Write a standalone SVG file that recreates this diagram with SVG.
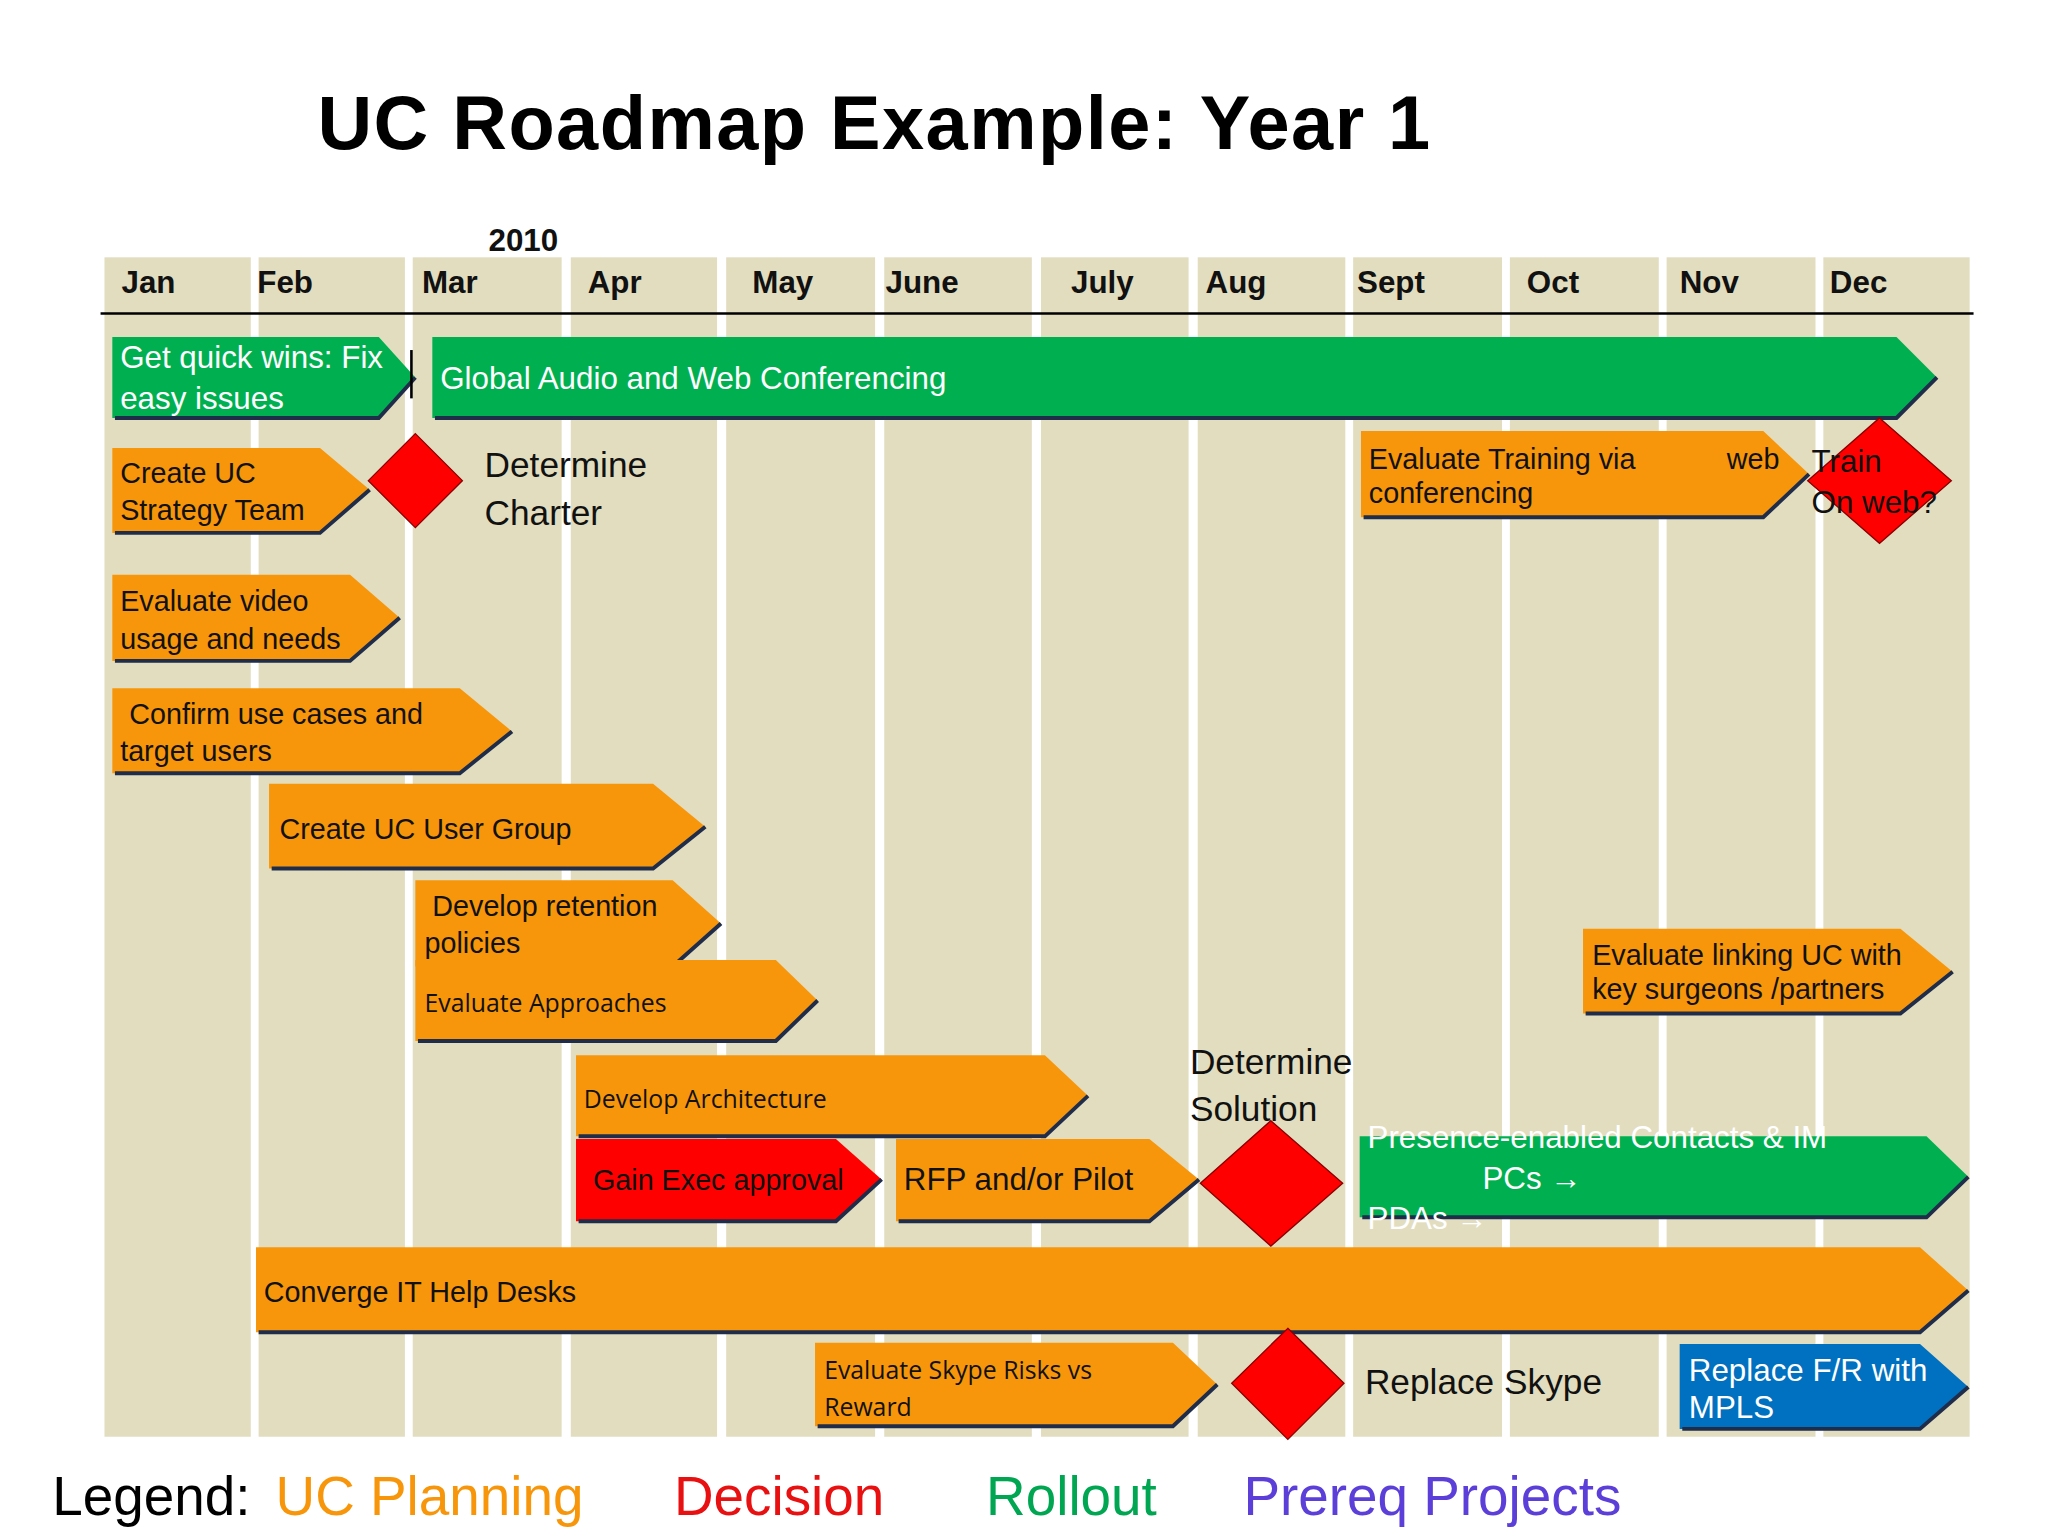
<svg xmlns="http://www.w3.org/2000/svg" width="2048" height="1536" viewBox="0 0 2048 1536">
<style>
.st{fill:#e2ddbf}
.o{fill:#f7960a}.g{fill:#00b050}.r{fill:#ff0000}.b{fill:#0070c0}
.sh{fill:none;stroke:#1f2d4a;stroke-width:3}
text{font-family:"Liberation Sans",Arial,sans-serif}
.m{font-weight:bold;font-size:24px;fill:#111}
.t{font-size:22px;fill:#111}
.w{font-size:24px;fill:#fff}
.n{font-size:27px;fill:#111;font-family:"Liberation Sans Narrow","Liberation Sans",sans-serif}
.os{font-family:"Open Sans",sans-serif;font-size:19px;fill:#111}
</style>
<rect width="2048" height="1536" fill="#fff"/>
<g transform="scale(1.30612)">
<g id="stripes">
<rect class="st" x="80" y="197" width="112" height="903"/>
<rect class="st" x="198" y="197" width="112" height="903"/>
<rect class="st" x="316" y="197" width="114" height="903"/>
<rect class="st" x="437" y="197" width="112" height="903"/>
<rect class="st" x="556" y="197" width="114" height="903"/>
<rect class="st" x="677" y="197" width="113" height="903"/>
<rect class="st" x="797" y="197" width="113" height="903"/>
<rect class="st" x="917" y="197" width="113" height="903"/>
<rect class="st" x="1036" y="197" width="114" height="903"/>
<rect class="st" x="1156" y="197" width="114" height="903"/>
<rect class="st" x="1276" y="197" width="114" height="903"/>
<rect class="st" x="1396" y="197" width="112" height="903"/>
<line x1="77" y1="240" x2="1511" y2="240" stroke="#000" stroke-width="2"/>
</g>
<text x="243" y="114" font-size="58" font-weight="bold" textLength="852" fill="#000">UC Roadmap Example: Year 1</text>
<g id="months">
<text class="m" x="374" y="192">2010</text>
<text class="m" x="93" y="224">Jan</text><text class="m" x="197" y="224">Feb</text><text class="m" x="323" y="224">Mar</text>
<text class="m" x="450" y="224">Apr</text><text class="m" x="576" y="224">May</text><text class="m" x="678" y="224">June</text>
<text class="m" x="820" y="224">July</text><text class="m" x="923" y="224">Aug</text><text class="m" x="1039" y="224">Sept</text>
<text class="m" x="1169" y="224">Oct</text><text class="m" x="1286" y="224">Nov</text><text class="m" x="1401" y="224">Dec</text>
</g>
<g id="n1"><polygon class="g" points="86,258 290,258 318,289 290,320 86,320"/><polyline class="sh" points="88,320 290,320 318,289"/>
<text class="w" x="92" y="282">Get quick wins: Fix</text><text class="w" x="92" y="313">easy issues</text></g>
<line x1="315" y1="268" x2="315" y2="305" stroke="#000" stroke-width="2"/>
<g id="n2"><polygon class="g" points="331,258 1452,258 1483,289 1452,320 331,320"/><polyline class="sh" points="333,320 1452,320 1483,289"/>
<text class="w" x="337" y="298">Global Audio and Web Conferencing</text></g>
<g id="n3"><polygon class="o" points="86,343 245,343 283,375 245,408 86,408"/><polyline class="sh" points="88,408 245,408 283,375"/>
<text class="t" x="92" y="370">Create UC</text><text class="t" x="92" y="398">Strategy Team</text></g>
<g id="d1"><polygon class="r" points="318,332 354,368 318,404 282,368" stroke="#8a0000" stroke-width="1"/></g>
<text class="n" x="371" y="365">Determine</text><text class="n" x="371" y="402">Charter</text>
<g id="n4"><polygon class="o" points="1042,330 1350,330 1385,363 1350,396 1042,396"/><polyline class="sh" points="1044,396 1350,396 1385,363"/>
<text class="t" x="1048" y="359" font-size="20">Evaluate Training via</text><text class="t" x="1322" y="359" font-size="20">web</text><text class="t" x="1048" y="385" font-size="20">conferencing</text></g>
<g id="d2"><polygon class="r" points="1439,320 1494,368 1439,416 1384,368" stroke="#8a0000" stroke-width="1"/></g>
<text x="1387" y="361" font-size="24" fill="#111">Train</text><text x="1387" y="393" font-size="24" fill="#111">On web?</text>
<g id="n5"><polygon class="o" points="86,440 268,440 306,473 268,506 86,506"/><polyline class="sh" points="88,506 268,506 306,473"/>
<text class="t" x="92" y="468">Evaluate video</text><text class="t" x="92" y="497">usage and needs</text></g>
<g id="n6"><polygon class="o" points="86,527 352,527 392,560 352,592 86,592"/><polyline class="sh" points="88,592 352,592 392,560"/>
<text class="t" x="99" y="554">Confirm use cases and</text><text class="t" x="92" y="583">target users</text></g>
<g id="n7"><polygon class="o" points="206,600 500,600 540,633 500,665 206,665"/><polyline class="sh" points="208,665 500,665 540,633"/>
<text class="t" x="214" y="642">Create UC User Group</text></g>
<g id="n8"><polygon class="o" points="318,674 515,674 552,707 515,740 318,740"/><polyline class="sh" points="320,740 515,740 552,707"/>
<text class="t" x="331" y="701">Develop retention</text><text class="t" x="325" y="730">policies</text></g>
<g id="n9"><polygon class="o" points="318,735 594,735 626,766 594,797 318,797"/><polyline class="sh" points="320,797 594,797 626,766"/>
<text class="os" x="325" y="775">Evaluate Approaches</text></g>
<g id="n10"><polygon class="o" points="1212,711 1455,711 1495,744 1455,776 1212,776"/><polyline class="sh" points="1214,776 1455,776 1495,744"/>
<text class="t" x="1219" y="739" font-size="20">Evaluate linking UC with</text><text class="t" x="1219" y="765" font-size="20">key surgeons /partners</text></g>
<g id="n11"><polygon class="o" points="441,808 800,808 833,839 800,870 441,870"/><polyline class="sh" points="443,870 800,870 833,839"/>
<text class="os" x="447" y="848">Develop Architecture</text></g>
<text class="n" x="911" y="822">Determine</text><text class="n" x="911" y="858">Solution</text>
<g id="n12"><polygon class="r" points="441,872 640,872 675,903 640,935 441,935"/><polyline class="sh" points="443,935 640,935 675,903"/>
<text class="t" x="454" y="911">Gain Exec approval</text></g>
<g id="n13"><polygon class="o" points="686,872 880,872 918,903 880,935 686,935"/><polyline class="sh" points="688,935 880,935 918,903"/>
<text x="692" y="911" font-size="24" fill="#111">RFP and/or Pilot</text></g>
<g id="d3"><polygon class="r" points="973,858 1028,906 973,954 919,906" stroke="#8a0000" stroke-width="1"/></g>
<g id="n14"><polygon class="g" points="1041,870 1475,870 1507,901 1475,932 1041,932"/><polyline class="sh" points="1043,932 1475,932 1507,901"/>
<text class="w" x="1047" y="879">Presence-enabled Contacts &amp; IM</text><text class="w" x="1135" y="910">PCs →</text><text class="w" x="1047" y="941">PDAs →</text></g>
<g id="n15"><polygon class="o" points="196,955 1470,955 1507,988 1470,1020 196,1020"/><polyline class="sh" points="198,1020 1470,1020 1507,988"/>
<text class="t" x="202" y="997">Converge IT Help Desks</text></g>
<g id="n16"><polygon class="o" points="624,1028 898,1028 932,1060 898,1092 624,1092"/><polyline class="sh" points="626,1092 898,1092 932,1060"/>
<text class="os" x="631" y="1056">Evaluate Skype Risks vs</text><text class="os" x="631" y="1084">Reward</text></g>
<g id="d4"><polygon class="r" points="986,1017 1029,1059 986,1102 943,1059" stroke="#8a0000" stroke-width="1"/></g>
<text class="n" x="1045" y="1067">Replace Skype</text>
<g id="n17"><polygon class="b" points="1286,1029 1470,1029 1507,1062 1470,1094 1286,1094"/><polyline class="sh" points="1288,1094 1470,1094 1507,1062"/>
<text class="w" x="1293" y="1057">Replace F/R with</text><text class="w" x="1293" y="1086">MPLS</text></g>
<g id="legend" font-size="42">
<text x="40" y="1160" font-size="42" fill="#000">Legend:</text>
<text x="211" y="1160" font-size="42" fill="#f7960a">UC Planning</text>
<text x="516" y="1160" font-size="42" fill="#e81010">Decision</text>
<text x="755" y="1160" font-size="42" fill="#00a651">Rollout</text>
<text x="952" y="1160" font-size="42" fill="#5b3fd8">Prereq Projects</text>
</g>
</g>
</svg>
